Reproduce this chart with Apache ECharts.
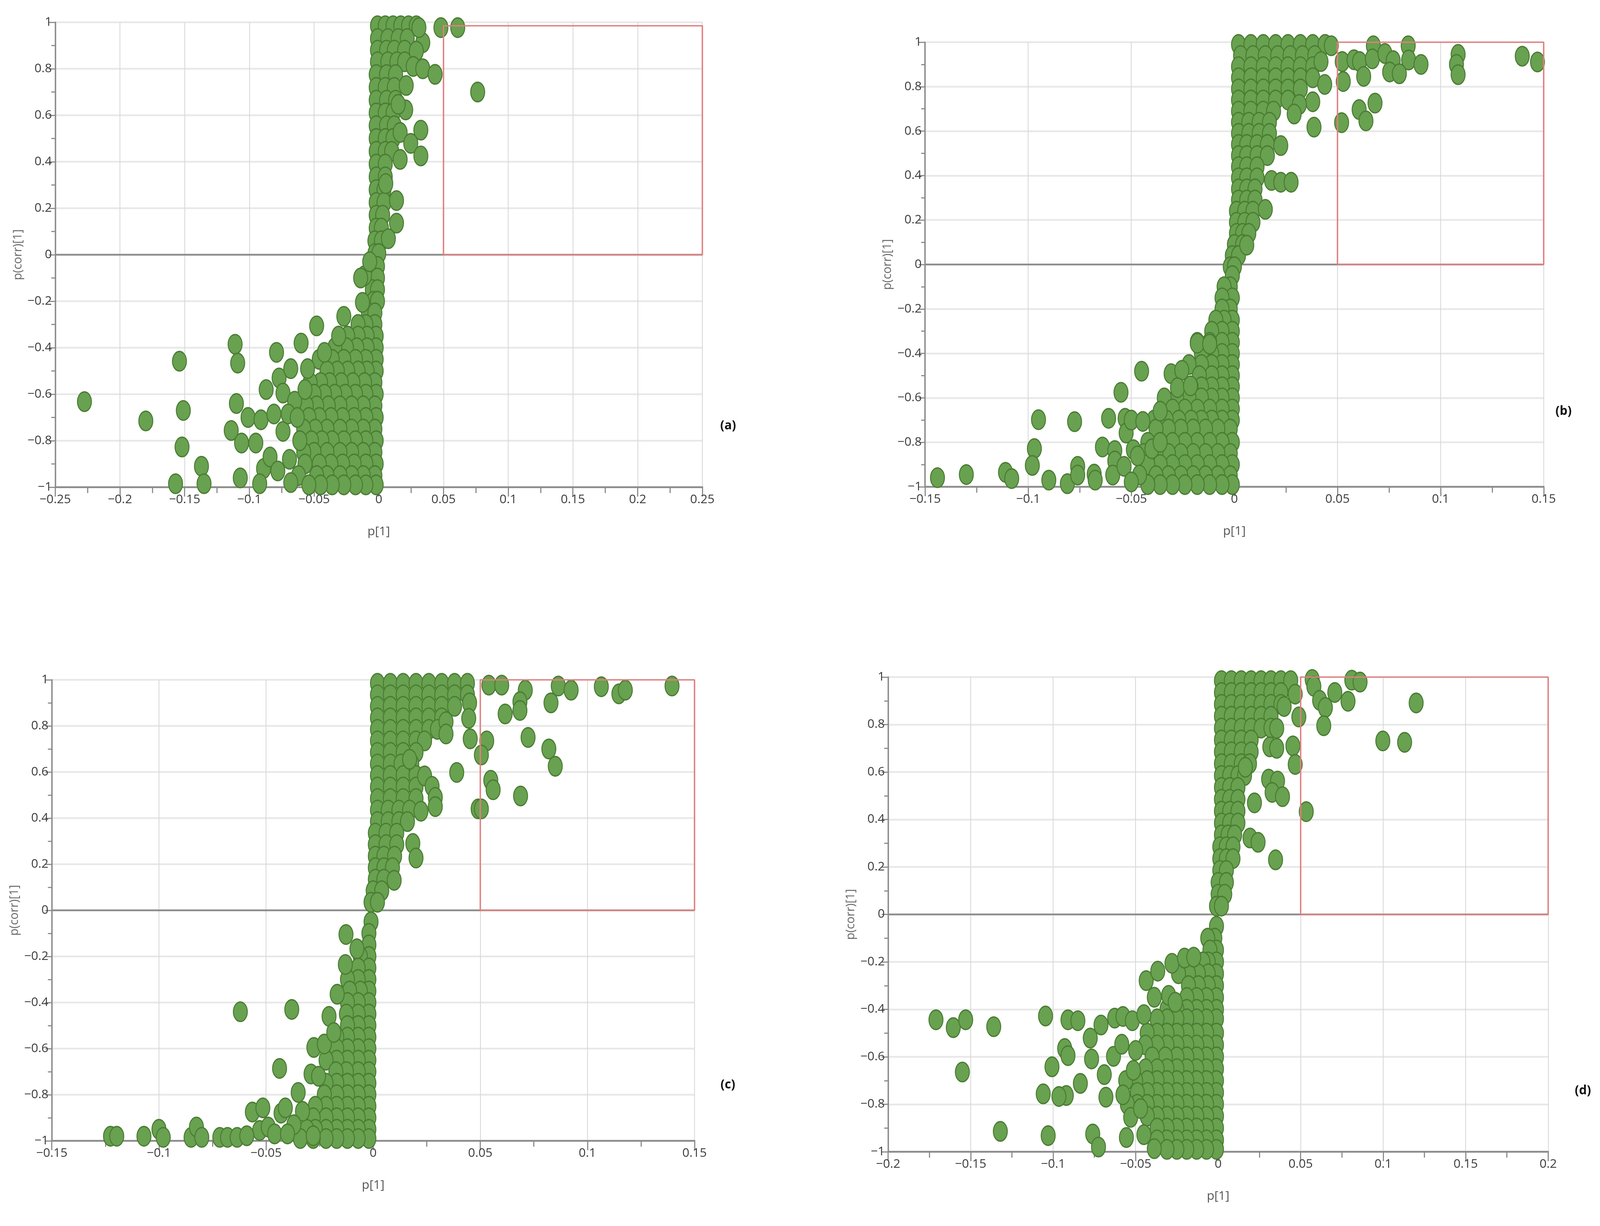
<!DOCTYPE html>
<html>
<head>
<meta charset="utf-8">
<title>p(corr)[1] vs p[1]</title>
<script src="https://cdn.jsdelivr.net/npm/echarts@6/dist/echarts.min.js"></script>
<style>
  html, body { margin: 0; padding: 0; background: #fff; overflow: hidden; }
  #chart { width: 100vw; height: 100vh; }
</style>
</head>
<body>
<div id="chart"></div>
<script>
// x range of each panel (a, b, c, d), y range shared
var xLimits = [[-0.25, 0.25], [-0.15, 0.15], [-0.15, 0.15], [-0.2, 0.2]];
var yLimits = [-1, 1];
// red selection box: from p[1] = 0.05 to the right edge, p(corr) from 0 to top
var boxLeft = 0.05;
var boxTop = [0.985, 1, 1, 1];
var panelTags = ['(a)', '(b)', '(c)', '(d)'];

// dense bands: [p(corr), [p values in that row]]
var aBand = [
  [0.985, [-0.001, 0.005, 0.011, 0.017, 0.023, 0.029]],
  [0.93, [-0.001, 0.007, 0.015, 0.022]],
  [0.88, [-0.001, 0.006, 0.012, 0.02]],
  [0.83, [-0.001, 0.007, 0.014, 0.02]],
  [0.775, [-0.002, 0.006, 0.013]],
  [0.72, [-0.002, 0.005, 0.012]],
  [0.665, [-0.002, 0.006, 0.013]],
  [0.61, [-0.002, 0.005, 0.011]],
  [0.555, [-0.002, 0.006, 0.012]],
  [0.5, [-0.002, 0.005, 0.011]],
  [0.445, [-0.002, 0.005, 0.01]],
  [0.39, [-0.002, 0.005]],
  [0.335, [-0.002, 0.005]],
  [0.28, [-0.002, 0.004]],
  [0.225, [-0.002, 0.004]],
  [0.17, [-0.002, 0.003]],
  [0.115, [-0.002, 0.002]],
  [0.06, [-0.003, 0.002]],
  [0.005, [-0.003, 0.0]],
  [-0.05, [-0.004, -0.001]],
  [-0.1, [-0.005, -0.001]],
  [-0.15, [-0.005, -0.001]],
  [-0.2, [-0.004, -0.001]],
  [-0.25, [-0.008, -0.003]],
  [-0.3, [-0.003, -0.010, -0.016]],
  [-0.35, [-0.002, -0.009, -0.016, -0.024]],
  [-0.4, [-0.002, -0.009, -0.017, -0.025, -0.034]],
  [-0.45, [-0.002, -0.01, -0.018, -0.027, -0.036, -0.046]],
  [-0.5, [-0.002, -0.009, -0.016, -0.024, -0.032, -0.040]],
  [-0.55, [-0.003, -0.011, -0.02, -0.029, -0.038, -0.045, -0.053]],
  [-0.6, [-0.002, -0.01, -0.018, -0.026, -0.034, -0.042, -0.050]],
  [-0.65, [-0.003, -0.012, -0.021, -0.03, -0.039, -0.048, -0.056]],
  [-0.7, [-0.002, -0.01, -0.019, -0.028, -0.037, -0.046, -0.054]],
  [-0.75, [-0.003, -0.012, -0.021, -0.03, -0.04, -0.049, -0.058]],
  [-0.8, [-0.002, -0.01, -0.018, -0.027, -0.036, -0.044, -0.052]],
  [-0.85, [-0.003, -0.012, -0.021, -0.03, -0.04, -0.05, -0.058]],
  [-0.9, [-0.002, -0.01, -0.019, -0.028, -0.037, -0.046, -0.057]],
  [-0.95, [-0.003, -0.012, -0.021, -0.03, -0.04, -0.048, -0.062]],
  [-0.99, [-0.002, -0.01, -0.018, -0.027, -0.036, -0.045, -0.054]]
];
var aOut = [
  [0.048, 0.977], [0.061, 0.977], [0.034, 0.912], [0.031, 0.977], [0.029, 0.876],
  [0.0266, 0.81], [0.034, 0.80], [0.0435, 0.776], [0.0764, 0.70], [0.0212, 0.728],
  [0.0208, 0.623], [0.015, 0.647], [0.0325, 0.536], [0.0165, 0.526], [0.0247, 0.479],
  [0.0325, 0.425], [0.0165, 0.41], [0.0054, 0.306], [0.0137, 0.233], [0.0137, 0.136],
  [0.0074, 0.069], [-0.011, -0.09], [-0.007, -0.03], [-0.0126, -0.205], [-0.014, -0.10],
  [-0.2274, -0.632], [-0.180, -0.715], [-0.154, -0.458], [-0.151, -0.67], [-0.152, -0.827],
  [-0.137, -0.91], [-0.157, -0.985], [-0.135, -0.985], [-0.111, -0.385], [-0.109, -0.466],
  [-0.110, -0.64], [-0.114, -0.756], [-0.106, -0.81], [-0.107, -0.96], [-0.101, -0.70],
  [-0.095, -0.81], [-0.091, -0.71], [-0.087, -0.58], [-0.089, -0.92], [-0.092, -0.985],
  [-0.084, -0.87], [-0.079, -0.42], [-0.077, -0.53], [-0.078, -0.93], [-0.074, -0.76],
  [-0.074, -0.595], [-0.068, -0.49], [-0.069, -0.88], [-0.068, -0.98], [-0.060, -0.38],
  [-0.065, -0.63], [-0.057, -0.58], [-0.055, -0.49], [-0.048, -0.306], [-0.042, -0.42],
  [-0.031, -0.35], [-0.027, -0.265], [-0.061, -0.80], [-0.070, -0.685], [-0.081, -0.685],
  [-0.063, -0.70]
];

var bBand = [
  [0.99, [0.002, 0.008, 0.014, 0.02, 0.026, 0.032, 0.038, 0.044]],
  [0.94, [0.003, 0.009, 0.015, 0.021, 0.027, 0.033, 0.039]],
  [0.89, [0.002, 0.008, 0.014, 0.02, 0.026, 0.032, 0.038]],
  [0.84, [0.002, 0.008, 0.014, 0.02, 0.026, 0.032, 0.038]],
  [0.79, [0.002, 0.008, 0.014, 0.02, 0.026, 0.032]],
  [0.74, [0.002, 0.008, 0.014, 0.02, 0.026]],
  [0.69, [0.002, 0.008, 0.014, 0.019]],
  [0.64, [0.002, 0.007, 0.012, 0.017]],
  [0.59, [0.002, 0.007, 0.012, 0.017]],
  [0.54, [0.002, 0.006, 0.011, 0.016]],
  [0.49, [0.002, 0.006, 0.011, 0.016]],
  [0.44, [0.002, 0.006, 0.011]],
  [0.39, [0.002, 0.006, 0.011]],
  [0.34, [0.002, 0.006, 0.01]],
  [0.29, [0.002, 0.006, 0.01]],
  [0.24, [0.001, 0.005, 0.009]],
  [0.19, [0.001, 0.005, 0.009]],
  [0.14, [0.001, 0.004, 0.007]],
  [0.09, [0.0, 0.004]],
  [0.04, [-0.001, 0.002]],
  [-0.01, [-0.002, 0.0]],
  [-0.05, [-0.001]],
  [-0.1, [-0.002, -0.005]],
  [-0.15, [-0.001, -0.006]],
  [-0.2, [-0.002, -0.006]],
  [-0.25, [-0.001, -0.005, -0.009]],
  [-0.3, [-0.001, -0.006, -0.011]],
  [-0.35, [-0.001, -0.006, -0.012, -0.018]],
  [-0.4, [-0.001, -0.006, -0.011, -0.016]],
  [-0.45, [-0.001, -0.006, -0.011, -0.016, -0.022]],
  [-0.5, [-0.001, -0.006, -0.011, -0.017]],
  [-0.55, [-0.001, -0.006, -0.011, -0.016, -0.021]],
  [-0.6, [-0.001, -0.006, -0.011, -0.016, -0.022, -0.028, -0.034]],
  [-0.65, [-0.001, -0.006, -0.012, -0.018, -0.024, -0.03]],
  [-0.7, [-0.001, -0.006, -0.011, -0.016, -0.021, -0.027, -0.033, -0.039]],
  [-0.74, [-0.002, -0.008, -0.014, -0.02, -0.026, -0.032, -0.038]],
  [-0.8, [-0.001, -0.006, -0.012, -0.018, -0.024, -0.03, -0.036, -0.042]],
  [-0.85, [-0.002, -0.008, -0.014, -0.02, -0.026, -0.032, -0.038, -0.044]],
  [-0.9, [-0.001, -0.006, -0.012, -0.018, -0.024, -0.03, -0.036, -0.042]],
  [-0.95, [-0.002, -0.008, -0.014, -0.02, -0.026, -0.032, -0.038]],
  [-0.99, [-0.001, -0.006, -0.012, -0.018, -0.024, -0.03, -0.036, -0.042]]
];
var bOut = [
  [0.047, 0.984], [0.0674, 0.984], [0.0843, 0.984], [0.0523, 0.913], [0.058, 0.921],
  [0.0607, 0.913], [0.0669, 0.925], [0.073, 0.949], [0.077, 0.917], [0.0845, 0.92],
  [0.0905, 0.90], [0.1085, 0.945], [0.1077, 0.90], [0.1085, 0.854], [0.1396, 0.937],
  [0.147, 0.911], [0.0627, 0.846], [0.0753, 0.866], [0.080, 0.858], [0.0438, 0.81],
  [0.0528, 0.823], [0.042, 0.913], [0.038, 0.732], [0.0315, 0.72], [0.0682, 0.726],
  [0.029, 0.677], [0.0605, 0.697], [0.0386, 0.618], [0.052, 0.638], [0.0638, 0.646],
  [0.0225, 0.535], [0.018, 0.378], [0.0225, 0.37], [0.0275, 0.37], [0.015, 0.248],
  [0.006, 0.087],
  [-0.144, -0.959], [-0.130, -0.945], [-0.111, -0.935], [-0.108, -0.963], [-0.095, -0.698],
  [-0.097, -0.828], [-0.098, -0.904], [-0.090, -0.97], [-0.081, -0.986], [-0.0775, -0.707],
  [-0.076, -0.908], [-0.076, -0.947], [-0.068, -0.943], [-0.0675, -0.97], [-0.064, -0.821],
  [-0.061, -0.692], [-0.058, -0.837], [-0.058, -0.884], [-0.059, -0.947], [-0.055, -0.575],
  [-0.0535, -0.908], [-0.053, -0.692], [-0.0525, -0.758], [-0.050, -0.70], [-0.049, -0.833],
  [-0.047, -0.861], [-0.045, -0.48], [-0.0444, -0.706], [-0.046, -0.947], [-0.050, -0.978],
  [-0.040, -0.829], [-0.036, -0.66], [-0.036, -0.80], [-0.0307, -0.491], [-0.0255, -0.476],
  [-0.0276, -0.554], [-0.0213, -0.546], [-0.018, -0.354], [-0.012, -0.358]
];

var cBand = [
  [0.985, [0.002, 0.008, 0.014, 0.02, 0.026, 0.032, 0.038, 0.044]],
  [0.935, [0.002, 0.008, 0.014, 0.02, 0.026, 0.032, 0.038, 0.044]],
  [0.885, [0.002, 0.008, 0.014, 0.02, 0.026, 0.032, 0.038]],
  [0.835, [0.002, 0.008, 0.014, 0.02, 0.026, 0.032]],
  [0.785, [0.002, 0.008, 0.014, 0.02, 0.026, 0.03]],
  [0.735, [0.002, 0.008, 0.014, 0.02, 0.024]],
  [0.685, [0.002, 0.008, 0.014, 0.02]],
  [0.635, [0.002, 0.008, 0.013, 0.018]],
  [0.585, [0.002, 0.008, 0.014, 0.02]],
  [0.535, [0.002, 0.008, 0.014, 0.02]],
  [0.485, [0.002, 0.008, 0.014, 0.02]],
  [0.435, [0.002, 0.007, 0.012, 0.017]],
  [0.385, [0.002, 0.007, 0.012, 0.016]],
  [0.335, [0.001, 0.006, 0.011]],
  [0.285, [0.001, 0.006, 0.011]],
  [0.235, [0.001, 0.005, 0.01]],
  [0.185, [0.001, 0.005, 0.009]],
  [0.135, [0.001, 0.005]],
  [0.085, [0.0, 0.004]],
  [0.035, [-0.001, 0.002]],
  [-0.05, [-0.001]],
  [-0.1, [-0.002]],
  [-0.15, [-0.002]],
  [-0.2, [-0.002, -0.006]],
  [-0.25, [-0.002, -0.007]],
  [-0.3, [-0.002, -0.007, -0.012]],
  [-0.35, [-0.002, -0.006, -0.011]],
  [-0.4, [-0.002, -0.007, -0.012]],
  [-0.45, [-0.002, -0.007, -0.0125]],
  [-0.5, [-0.002, -0.007, -0.012]],
  [-0.55, [-0.002, -0.007, -0.012, -0.017]],
  [-0.6, [-0.002, -0.007, -0.012, -0.017]],
  [-0.65, [-0.002, -0.007, -0.012, -0.017, -0.022]],
  [-0.7, [-0.002, -0.007, -0.0125, -0.0174]],
  [-0.75, [-0.002, -0.007, -0.012, -0.017, -0.022]],
  [-0.8, [-0.002, -0.007, -0.012, -0.017, -0.0228]],
  [-0.85, [-0.002, -0.007, -0.012, -0.017, -0.022, -0.027]],
  [-0.9, [-0.002, -0.007, -0.012, -0.017, -0.022, -0.028]],
  [-0.95, [-0.002, -0.007, -0.012, -0.017, -0.022, -0.027, -0.031]],
  [-0.99, [-0.002, -0.007, -0.012, -0.017, -0.022, -0.028, -0.034]]
];
var cOut = [
  [0.054, 0.977], [0.060, 0.977], [0.071, 0.955], [0.0864, 0.973], [0.0924, 0.955],
  [0.1065, 0.97], [0.1147, 0.939], [0.1177, 0.955], [0.1395, 0.973], [0.0685, 0.905],
  [0.083, 0.90], [0.045, 0.90], [0.0685, 0.867], [0.0616, 0.852], [0.0446, 0.833],
  [0.034, 0.818], [0.034, 0.765], [0.0453, 0.744], [0.053, 0.735], [0.0723, 0.75],
  [0.0505, 0.674], [0.082, 0.70], [0.085, 0.625], [0.024, 0.583], [0.039, 0.598],
  [0.0549, 0.564], [0.0275, 0.538], [0.056, 0.523], [0.029, 0.49], [0.0688, 0.496],
  [0.0223, 0.43], [0.029, 0.45], [0.049, 0.44], [0.0505, 0.44], [0.0185, 0.29],
  [0.020, 0.227], [0.0098, 0.13], [0.017, 0.655],
  [-0.1226, -0.98], [-0.1197, -0.98], [-0.107, -0.98], [-0.100, -0.95], [-0.098, -0.985],
  [-0.085, -0.985], [-0.0825, -0.94], [-0.080, -0.985], [-0.0716, -0.985], [-0.068, -0.985],
  [-0.0635, -0.985], [-0.062, -0.44], [-0.0564, -0.875], [-0.0515, -0.857], [-0.053, -0.955],
  [-0.049, -0.94], [-0.0437, -0.686], [-0.043, -0.88], [-0.041, -0.857], [-0.038, -0.43],
  [-0.035, -0.79], [-0.033, -0.872], [-0.037, -0.93], [-0.029, -0.71], [-0.028, -0.978],
  [-0.0277, -0.595], [-0.0255, -0.72], [-0.0228, -0.58], [-0.0206, -0.46], [-0.0184, -0.53],
  [-0.0168, -0.364], [-0.013, -0.235], [-0.0127, -0.105], [-0.0076, -0.167], [-0.059, -0.978],
  [-0.046, -0.97], [-0.040, -0.97]
];

var dBand = [
  [0.985, [0.002, 0.008, 0.014, 0.02, 0.026, 0.032, 0.038, 0.044]],
  [0.935, [0.002, 0.008, 0.014, 0.02, 0.026, 0.032, 0.038]],
  [0.885, [0.002, 0.008, 0.014, 0.02, 0.026, 0.032, 0.038]],
  [0.835, [0.002, 0.008, 0.014, 0.02, 0.026, 0.032]],
  [0.785, [0.002, 0.008, 0.014, 0.02, 0.026, 0.032]],
  [0.735, [0.002, 0.008, 0.014, 0.02]],
  [0.685, [0.002, 0.008, 0.014, 0.02]],
  [0.635, [0.002, 0.008, 0.014, 0.019]],
  [0.585, [0.002, 0.007, 0.012, 0.016]],
  [0.535, [0.002, 0.007, 0.012]],
  [0.485, [0.002, 0.007, 0.012]],
  [0.435, [0.002, 0.007, 0.012]],
  [0.385, [0.002, 0.007, 0.012]],
  [0.335, [0.002, 0.006, 0.01]],
  [0.285, [0.001, 0.005, 0.009]],
  [0.235, [0.001, 0.005, 0.009]],
  [0.185, [0.001, 0.005]],
  [0.135, [0.0, 0.005]],
  [0.085, [0.0, 0.004]],
  [0.035, [-0.001, 0.002]],
  [-0.05, [-0.001]],
  [-0.1, [-0.002, -0.0063]],
  [-0.15, [-0.001, -0.005]],
  [-0.2, [-0.001, -0.006, -0.0092]],
  [-0.25, [-0.001, -0.006, -0.012, -0.018, -0.024]],
  [-0.3, [-0.001, -0.006, -0.012, -0.018]],
  [-0.35, [-0.001, -0.007, -0.013, -0.019]],
  [-0.4, [-0.001, -0.007, -0.013, -0.019, -0.025, -0.031]],
  [-0.44, [-0.001, -0.007, -0.013, -0.019, -0.025, -0.031, -0.037]],
  [-0.5, [-0.001, -0.007, -0.013, -0.019, -0.025, -0.031, -0.037, -0.043]],
  [-0.55, [-0.001, -0.007, -0.013, -0.019, -0.025, -0.031, -0.037, -0.044]],
  [-0.6, [-0.001, -0.007, -0.013, -0.019, -0.025, -0.032, -0.04]],
  [-0.65, [-0.001, -0.007, -0.013, -0.019, -0.025, -0.031, -0.037, -0.044]],
  [-0.7, [-0.001, -0.007, -0.013, -0.019, -0.025, -0.031, -0.037, -0.043, -0.05, -0.056]],
  [-0.75, [-0.001, -0.007, -0.013, -0.019, -0.025, -0.031, -0.037, -0.043, -0.049]],
  [-0.8, [-0.001, -0.007, -0.013, -0.019, -0.025, -0.031, -0.037, -0.043, -0.049, -0.055]],
  [-0.85, [-0.001, -0.007, -0.013, -0.019, -0.025, -0.031, -0.037, -0.043]],
  [-0.9, [-0.001, -0.007, -0.013, -0.019, -0.025, -0.031, -0.037]],
  [-0.95, [-0.001, -0.007, -0.013, -0.019, -0.025, -0.031, -0.037]],
  [-0.99, [-0.001, -0.007, -0.013, -0.019, -0.025, -0.031]]
];
var dOut = [
  [0.057, 0.99], [0.081, 0.987], [0.086, 0.979], [0.0467, 0.928], [0.0707, 0.935],
  [0.058, 0.961], [0.0615, 0.902], [0.0787, 0.898], [0.065, 0.872], [0.120, 0.891],
  [0.040, 0.876], [0.0489, 0.832], [0.064, 0.795], [0.0355, 0.784], [0.0453, 0.71],
  [0.0313, 0.706], [0.0355, 0.70], [0.0998, 0.731], [0.113, 0.725], [0.0467, 0.632],
  [0.0306, 0.57], [0.036, 0.562], [0.0327, 0.514], [0.022, 0.47], [0.039, 0.496],
  [0.0534, 0.433], [0.0193, 0.322], [0.0242, 0.304], [0.0348, 0.23], [0.0165, 0.62],
  [-0.171, -0.444], [-0.1605, -0.477], [-0.153, -0.444], [-0.136, -0.473], [-0.155, -0.664],
  [-0.132, -0.914], [-0.1046, -0.428], [-0.103, -0.932], [-0.106, -0.756], [-0.1007, -0.642],
  [-0.092, -0.763], [-0.0965, -0.767], [-0.093, -0.565], [-0.091, -0.595], [-0.091, -0.444],
  [-0.085, -0.448], [-0.0835, -0.712], [-0.0775, -0.521], [-0.0767, -0.609], [-0.076, -0.925],
  [-0.0725, -0.98], [-0.071, -0.466], [-0.069, -0.675], [-0.068, -0.77], [-0.0634, -0.598],
  [-0.0627, -0.437], [-0.0577, -0.43], [-0.0584, -0.547], [-0.0577, -0.76], [-0.0556, -0.94],
  [-0.052, -0.448], [-0.053, -0.855], [-0.045, -0.422], [-0.045, -0.928], [-0.0436, -0.279],
  [-0.0387, -0.349], [-0.0366, -0.239], [-0.0387, -0.987], [-0.047, -0.818], [-0.028, -0.206],
  [-0.0204, -0.184], [-0.0148, -0.18], [-0.030, -0.341], [-0.026, -0.37], [-0.0514, -0.657],
  [-0.050, -0.573]
];

var bands = [aBand, bBand, cBand, dBand];
var outliers = [aOut, bOut, cOut, dOut];

function points(band, out) {
  var pts = [];
  band.forEach(function (row) {
    row[1].forEach(function (x) { pts.push([x, row[0]]); });
  });
  return pts.concat(out);
}

// layout measured on the 5711 x 3138 reference; stretch it onto the viewport we get
var el = document.getElementById('chart');
var kx = el.clientWidth / 5711;
var ky = el.clientHeight / 3138;
var k = Math.min(kx, ky);
function sx(v) { return v * kx; }
function sy(v) { return v * ky; }
function px(v) { return v * k; }

// plot-area rectangles and tag positions (reference pixels)
var grids = [
  { left: 197, top: 57, width: 2310, height: 1190 },
  { left: 3302, top: 108, width: 2208, height: 1138 },
  { left: 185, top: 1740, width: 2294, height: 1180 },
  { left: 3170, top: 1733, width: 2356, height: 1215 }
];
var tagPos = [[2599, 1090], [5581, 1053], [2598, 2777], [5650, 2792]];

function fmt(v) {
  var s = String(+Math.abs(v).toFixed(3));
  return v < -1e-9 ? '\u2212' + s : s;
}

var font = '"Open Sans", "DejaVu Sans", sans-serif';
var axisGrey = '#8a8a8a';
var xAxes = [], yAxes = [], series = [], graphics = [];

for (var i = 0; i < 4; i++) {
  var xl = xLimits[i];
  xAxes.push({
    gridIndex: i, type: 'value', min: xl[0], max: xl[1], interval: 0.05,
    name: 'p[1]', nameLocation: 'middle', nameGap: sy(98),
    nameTextStyle: { fontSize: px(44), color: '#555', fontFamily: font },
    axisLine: { onZero: false, lineStyle: { color: axisGrey, width: px(6) } },
    axisTick: { show: true, length: sy(24), lineStyle: { color: axisGrey, width: px(4) } },
    minorTick: { show: true, splitNumber: 2, length: sy(15), lineStyle: { color: axisGrey, width: px(4) } },
    axisLabel: { fontSize: px(44), color: '#3c3c3c', margin: sy(16), fontFamily: font, formatter: fmt },
    splitLine: { show: true, lineStyle: { color: '#d9d9d9', width: px(3) } }
  });
  yAxes.push({
    gridIndex: i, type: 'value', min: yLimits[0], max: yLimits[1], interval: 0.2,
    name: 'p(corr)[1]', nameLocation: 'middle', nameGap: sx(112),
    nameTextStyle: { fontSize: px(42), color: '#666', fontFamily: font },
    axisLine: { show: true, onZero: false, lineStyle: { color: axisGrey, width: px(5) } },
    axisTick: { show: true, length: sx(23), lineStyle: { color: axisGrey, width: px(4) } },
    minorTick: { show: true, splitNumber: 2, length: sx(14), lineStyle: { color: axisGrey, width: px(4) } },
    axisLabel: { fontSize: px(44), color: '#3c3c3c', margin: sx(12), fontFamily: font, formatter: fmt },
    splitLine: { show: true, lineStyle: { color: '#e8e8e8', width: px(6) } }
  });
  // zero line
  series.push({
    type: 'line', xAxisIndex: i, yAxisIndex: i, z: 1, silent: true,
    symbol: 'none', data: [[xl[0], 0], [xl[1], 0]],
    lineStyle: { color: '#8c8c8c', width: px(6) }
  });
  series.push({
    type: 'scatter', xAxisIndex: i, yAxisIndex: i, z: 2,
    symbolSize: [sx(50), sy(50)], data: points(bands[i], outliers[i]),
    itemStyle: { color: '#68a14f', borderColor: '#4a7c33', borderWidth: px(4), opacity: 1 }
  });
  // red selection box
  series.push({
    type: 'line', xAxisIndex: i, yAxisIndex: i, z: 3, silent: true,
    symbol: 'none',
    data: [[boxLeft, 0], [xl[1], 0], [xl[1], boxTop[i]], [boxLeft, boxTop[i]], [boxLeft, 0]],
    lineStyle: { color: '#e07f7f', width: px(5) }
  });
  graphics.push({
    type: 'text', x: sx(tagPos[i][0]), y: sy(tagPos[i][1]),
    style: { text: panelTags[i], fontSize: px(44), fontWeight: 'bold', fill: '#111',
             fontFamily: font, align: 'center', verticalAlign: 'middle' }
  });
}

var chart = echarts.init(el);
chart.setOption({
  backgroundColor: '#ffffff',
  animation: false,
  grid: grids.map(function (g) {
    return { left: sx(g.left), top: sy(g.top), width: sx(g.width), height: sy(g.height) };
  }),
  xAxis: xAxes,
  yAxis: yAxes,
  series: series,
  graphic: graphics
});
</script>
</body>
</html>
